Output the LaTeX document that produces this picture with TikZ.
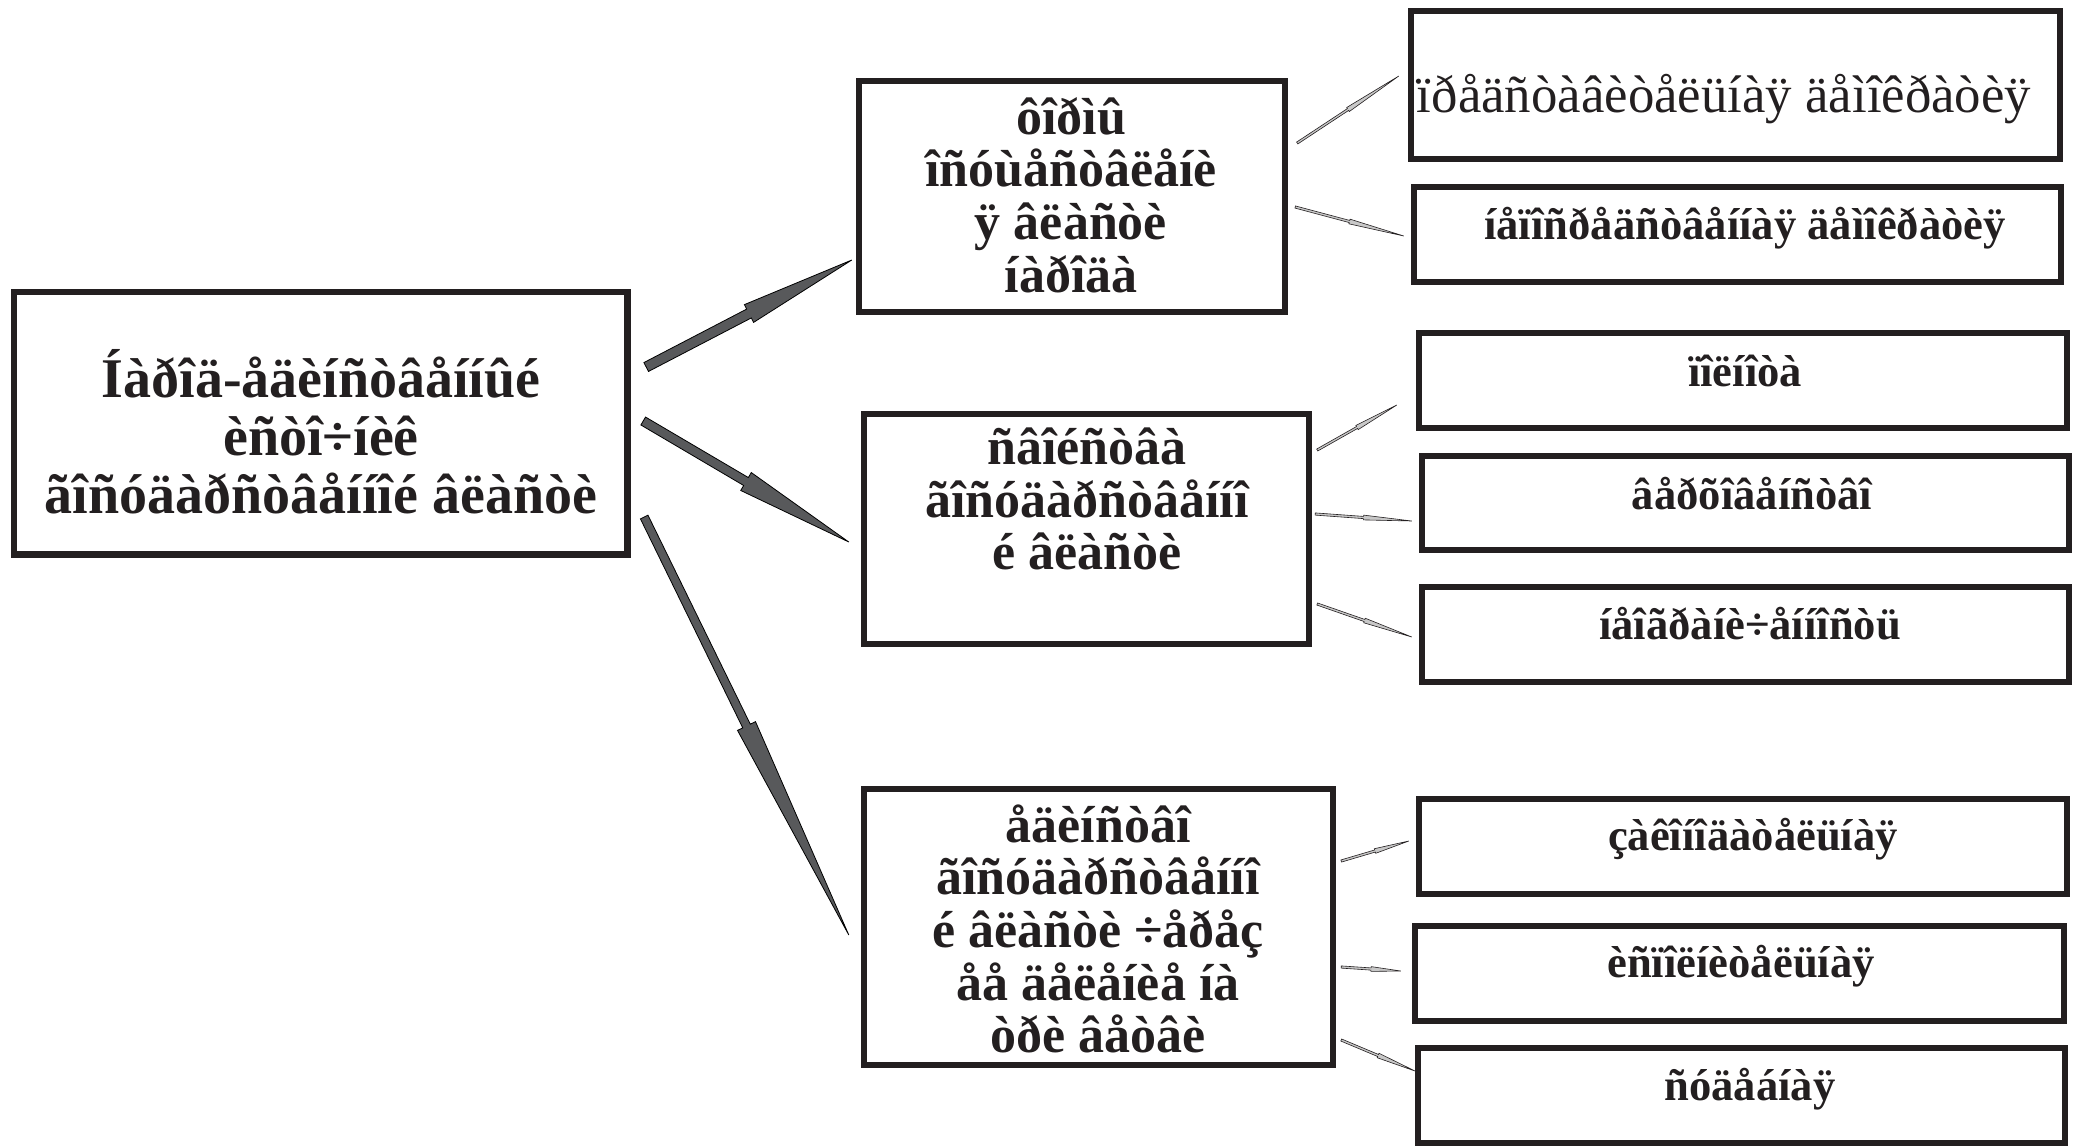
\documentclass[tikz,border=0pt]{standalone}
\usepackage{fontspec}
\setmainfont{Liberation Serif}
\usetikzlibrary{calc}
\definecolor{ink}{HTML}{231F20}
\definecolor{arrowgray}{HTML}{58595B}
\definecolor{thingray}{HTML}{C8C8C8}
\newcommand{\fatarrow}[5]{%
  \coordinate (fa-s) at (#1);
  \coordinate (fa-e) at (#2);
  \coordinate (fa-m) at ($(fa-s)!0.5!(fa-e)$);
  \draw[#5] ($(fa-s)!#3!90:(fa-e)$) -- ($(fa-m)!#3!90:(fa-e)$) -- ($(fa-m)!#4!90:(fa-e)$) -- (fa-e)
    -- ($(fa-m)!#4!-90:(fa-e)$) -- ($(fa-m)!#3!-90:(fa-e)$) -- ($(fa-s)!#3!-90:(fa-e)$) -- cycle;}
\tikzset{
  box/.style={draw=ink, line width=3.2pt, inner sep=0pt},
  rbox/.style={box, minimum width=323.5pt, minimum height=47.3pt},
  bigtxt/.style={text=ink, align=center, inner sep=0pt, font=\fontsize{28pt}{29pt}\selectfont\bfseries},
  midtxt/.style={text=ink, align=center, inner sep=0pt, font=\fontsize{26pt}{26.3pt}\selectfont\bfseries},
  rtxt/.style={text=ink, align=center, inner sep=0pt, font=\fontsize{22.3pt}{24pt}\selectfont\bfseries},
  rtxtreg/.style={text=ink, align=center, inner sep=0pt, font=\fontsize{26.4pt}{28pt}\selectfont},
  bigarrow/.style={fill=arrowgray, draw=black, line width=0.4pt, line join=miter},
  smallarrow/.style={fill=thingray, draw=ink, line width=0.3pt, line join=miter}
}
\begin{document}
\begin{tikzpicture}[x=0.5pt, y=-0.5pt]
\useasboundingbox (0,0) rectangle (2078,1147);
% boxes
\node[box, minimum width=306.8pt, minimum height=131.3pt] (b1) at (320.6,423.3) {};
\node[box, minimum width=212.8pt, minimum height=115.3pt] (b2) at (1072,196.5) {};
\node[box, minimum width=222.3pt, minimum height=114.8pt] (b3) at (1086.5,529) {};
\node[box, minimum width=234.3pt, minimum height=137.8pt] (b4) at (1098.5,927) {};
\node[box, minimum width=324.3pt, minimum height=73.8pt] (r1) at (1735.5,85) {};
\node[rbox, minimum width=323.3pt] (r2) at (1737.5,234.5) {};
\node[rbox, minimum width=323.8pt] (r3) at (1743,380.5) {};
\node[rbox, minimum width=323.3pt, minimum height=46.8pt] (r4) at (1745.5,503) {};
\node[rbox, minimum width=323.3pt] (r5) at (1745.5,634.5) {};
\node[rbox, minimum width=323.8pt] (r6) at (1743,846.5) {};
\node[rbox, minimum width=324.3pt] (r7) at (1739.5,973.5) {};
\node[rbox, minimum width=323.3pt] (r8) at (1741.5,1095.5) {};
% texts
\node[bigtxt] (t1) at (321,432) {Íàðîä-åäèíñòâåííûé\\èñòî÷íèê\\ãîñóäàðñòâåííîé âëàñòè};
\node[midtxt] (t2) at (1071,195) {ôîðìû\\îñóùåñòâëåíè\\ÿ âëàñòè\\íàðîäà};
\node[midtxt] (t3) at (1087,499) {ñâîéñòâà\\ãîñóäàðñòâåííî\\é âëàñòè};
\node[midtxt] (t4) at (1098,929) {åäèíñòâî\\ãîñóäàðñòâåííî\\é âëàñòè ÷åðåç\\åå äåëåíèå íà\\òðè âåòâè};
\node[rtxtreg] (tr1) at (1724,99) {ïðåäñòàâèòåëüíàÿ äåìîêðàòèÿ};
\node[rtxt] (tr2) at (1745,228) {íåïîñðåäñòâåííàÿ äåìîêðàòèÿ};
\node[rtxt] (tr3) at (1745,371) {ïîëíîòà};
\node[rtxt] (tr4) at (1752,494) {âåðõîâåíñòâî};
\node[rtxt] (tr5) at (1750,624) {íåîãðàíè÷åííîñòü};
\node[rtxt] (tr6) at (1753,839) {çàêîíîäàòåëüíàÿ};
\node[rtxt] (tr7) at (1741,966) {èñïîëíèòåëüíàÿ};
\node[rtxt] (tr8) at (1750,1089) {ñóäåáíàÿ};
% big arrows
\fatarrow{$(b1.east)+(15.6,-56.3)$}{$(b2.west)+(-4.2,63.5)$}{2.5pt}{5pt}{bigarrow}
\fatarrow{$(b1.east)+(12.6,-2.3)$}{$(b3.west)+(-12.2,13)$}{2.3pt}{5.2pt}{bigarrow}
\fatarrow{$(b1.east)+(13.6,93.7)$}{$(b4.west)+(-12.2,8)$}{2.1pt}{5pt}{bigarrow}
% small connectors
\fatarrow{$(b2.east)+(9.2,-53.5)$}{$(r1.west)+(-9.2,-9)$}{0.55pt}{1.2pt}{smallarrow}
\fatarrow{$(b2.east)+(7.2,10.5)$}{$(r2.west)+(-7.2,1.5)$}{0.55pt}{1.2pt}{smallarrow}
\fatarrow{$(b3.east)+(5.2,-79)$}{$(r3.west)+(-19.2,24.5)$}{0.55pt}{1.2pt}{smallarrow}
\fatarrow{$(b3.east)+(3.2,-15)$}{$(r4.west)+(-7.2,18)$}{0.55pt}{1.2pt}{smallarrow}
\fatarrow{$(b3.east)+(5.2,75)$}{$(r5.west)+(-7.2,2.5)$}{0.55pt}{1.2pt}{smallarrow}
\fatarrow{$(b4.east)+(5.2,-66)$}{$(r6.west)+(-7.2,-5.5)$}{0.55pt}{1.2pt}{smallarrow}
\fatarrow{$(b4.east)+(5.2,40)$}{$(r7.west)+(-11.2,-2.5)$}{0.55pt}{1.2pt}{smallarrow}
\fatarrow{$(b4.east)+(5.2,113)$}{$(r8.west)+(0,-24.5)$}{0.55pt}{1.2pt}{smallarrow}
\end{tikzpicture}
\end{document}
